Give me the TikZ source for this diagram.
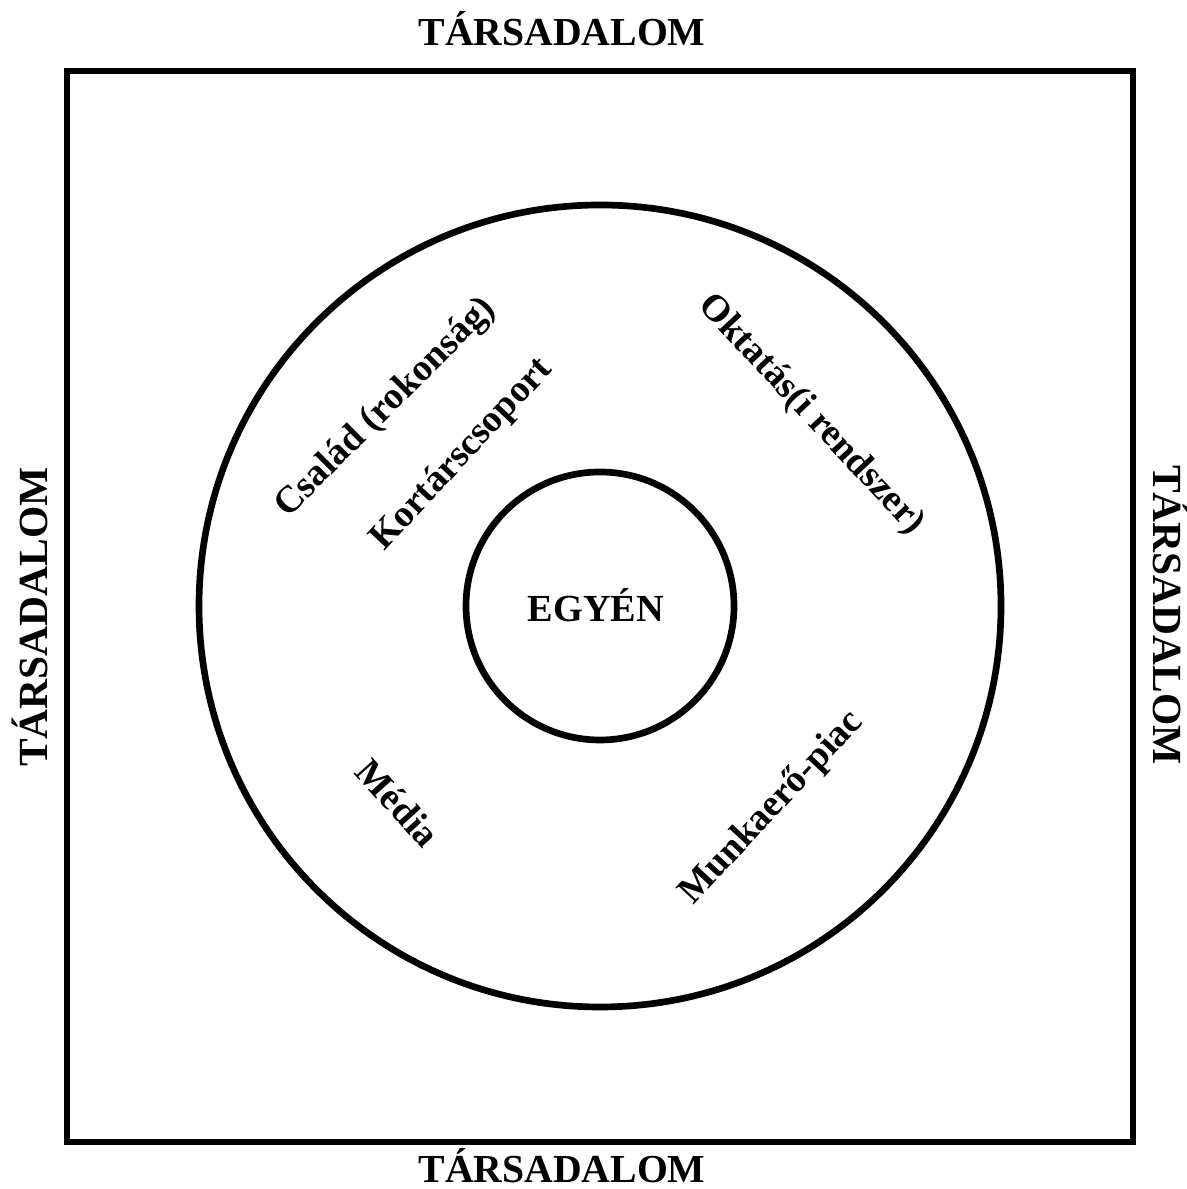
\documentclass[tikz,border=0pt]{standalone}
\usepackage{fontspec}
\setmainfont{Liberation Serif}
\tikzset{
  frame/.style={line width=3.8pt},
  ring/.style={line width=3.8pt},
  outerlabel/.style={font=\fontsize{22.6}{26}\selectfont\bfseries, inner sep=0pt, anchor=base},
  sidelabel/.style={font=\fontsize{23.6}{27}\selectfont\bfseries, inner sep=0pt, anchor=base},
  agent/.style={font=\fontsize{21.5}{25}\selectfont\bfseries, inner sep=0pt}
}
\begin{document}
\begin{tikzpicture}[x=0.02cm, y=0.02cm]
    \useasboundingbox (0,0) rectangle (1186,1189);

    % Society frame
    \draw[frame] (67,47) rectangle (1133,1118);
    \node[outerlabel] (top) at (562,1143) {TÁRSADALOM};
    \node[outerlabel] (bottom) at (562,7) {TÁRSADALOM};
    \node[sidelabel, rotate=90] (left) at (47,572) {TÁRSADALOM};
    \node[sidelabel, rotate=-90] (right) at (1153,574) {TÁRSADALOM};

    % Circles
    \coordinate (c) at (600,583);
    \draw[ring] (c) circle (401);
    \draw[ring] (c) circle (134);
    \node[outerlabel, font=\fontsize{21.8}{26}\selectfont\bfseries] (self) at (596,567) {EGYÉN};

    % Agents of socialisation
    \node[agent, rotate=45] (family) at (386,781) {Család (rokonság)};
    \node[agent, rotate=47] (peers) at (462,734) {Kortárscsoport};
    \node[agent, rotate=-47] (school) at (811,774) {Oktatás(i rendszer)};
    \node[agent, rotate=-48] (media) at (398,386) {Média};
    \node[agent, rotate=47] (labour) at (772,381) {Munkaerő-piac};
\end{tikzpicture}
\end{document}
